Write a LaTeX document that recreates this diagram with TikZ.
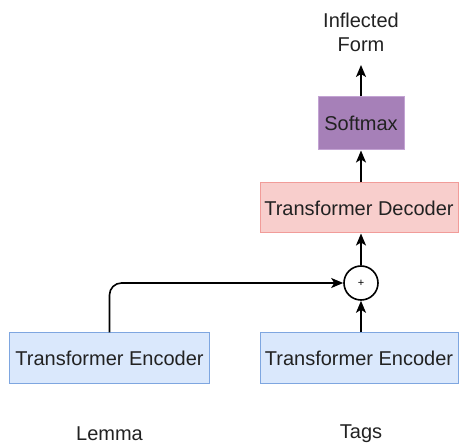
\documentclass[tikz,border=0pt]{standalone}
\usepackage{fontspec}
\setmainfont{Liberation Sans}
\usetikzlibrary{arrows.meta}

\definecolor{encfill}{HTML}{DAE8FC}
\definecolor{encline}{HTML}{7EA6E0}
\definecolor{decfill}{HTML}{F8CECC}
\definecolor{decline}{HTML}{F19C99}
\definecolor{softfill}{HTML}{A680B8}
\definecolor{softline}{HTML}{C3A3D3}
\definecolor{txt}{HTML}{222222}

\tikzset{
  block/.style={draw, line width=1pt, minimum height=51pt, inner sep=0pt,
    font=\fontsize{20}{24}\selectfont, text=txt},
  enc/.style={block, fill=encfill, draw=encline, minimum width=200pt},
  dec/.style={block, fill=decfill, draw=decline, minimum width=198pt, minimum height=50pt},
  soft/.style={block, fill=softfill, draw=softline, minimum width=86pt, minimum height=53pt},
  plusnode/.style={circle, draw, line width=1.6pt, minimum size=34pt, inner sep=0pt,
    font=\fontsize{11}{13}\selectfont},
  label/.style={font=\fontsize{20}{24}\selectfont, text=txt, align=center, inner sep=0pt},
  link/.style={line width=1.6pt, -{Stealth[length=12pt,width=10pt,inset=3pt]}}
}

\begin{document}
\begin{tikzpicture}[x=1pt,y=1pt]
\useasboundingbox (0,0) rectangle (459,445);
% inputs
\node[label] (lemma) at (109.5,11) {Lemma};
\node[label] (tags) at (361,11) {Tags};
% encoders
\node[enc] (encL) at (109.5,86.5) {Transformer Encoder};
\node[enc, minimum width=198pt] (encR) at (359,86.5) {Transformer Encoder};
% combine
\node[plusnode] (plus) at (361,162) {+};
\node[dec] (dec) at (359,237) {Transformer Decoder};
\node[soft] (softmax) at (361,321.5) {Softmax};
\node[label, anchor=south, yshift=13pt] (out) at (361,380) {Inflected\\Form};
% connectors
\draw[link, rounded corners=12pt] (encL.north) |- (plus.west);
\draw[link] (encR.north -| plus) -- (plus.south);
\draw[link] (plus.north) -- (dec.south -| plus);
\draw[link] (dec.north -| softmax) -- (softmax.south);
\draw[link, shorten >=13pt] (softmax.north) -- (out.south);
\end{tikzpicture}
\end{document}
